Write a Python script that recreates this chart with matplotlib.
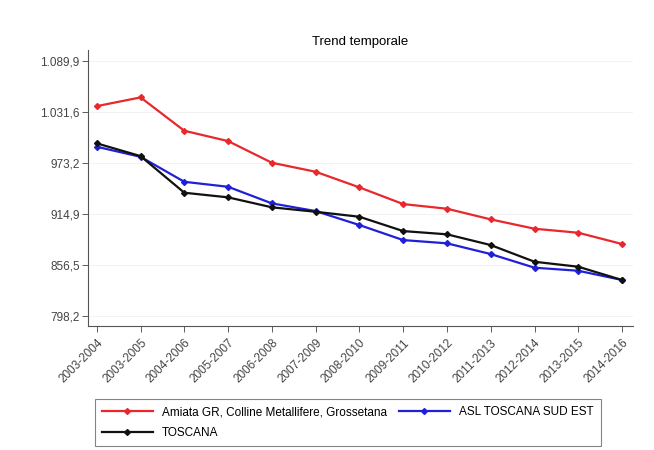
import matplotlib
matplotlib.use("Agg")
import matplotlib.pyplot as plt
from matplotlib.ticker import FuncFormatter

plt.rcParams['font.family'] = ['Liberation Sans', 'DejaVu Sans']

# periods on the x axis
periods = ['2003-2004', '2003-2005', '2004-2006', '2005-2007', '2006-2008',
           '2007-2009', '2008-2010', '2009-2011', '2010-2012', '2011-2013',
           '2012-2014', '2013-2015', '2014-2016']

# values
amiata = [1038.4, 1048.4, 1010.2, 998.4, 973.6, 963.3, 945.4,
          926.3, 921.0, 908.8, 898.1, 893.5, 880.6]
asl_sud_est = [991.9, 980.4, 951.8, 946.1, 927.1, 918.3, 902.3,
               885.1, 881.4, 869.1, 853.5, 850.0, 839.4]
toscana = [995.8, 981.2, 939.3, 934.0, 922.6, 917.5, 911.8,
           895.4, 891.7, 879.4, 860.3, 854.6, 839.4]

y_ticks = [798.2, 856.5, 914.9, 973.2, 1031.6, 1089.9]


def it_fmt(v, pos):
    # italian style: dot for thousands, comma for decimals
    s = f"{v:,.1f}"
    return s.replace(',', 'X').replace('.', ',').replace('X', '.')


fig = plt.figure(figsize=(6.54, 4.5), dpi=100)
ax = fig.add_axes([0.1346, 0.2756, 0.8333, 0.613])

x = list(range(len(periods)))
l1, = ax.plot(x, amiata, color='#e8282c', lw=1.6, marker='D', ms=3,
              label='Amiata GR, Colline Metallifere, Grossetana')
l2, = ax.plot(x, asl_sud_est, color='#2020d8', lw=1.6, marker='D', ms=3,
              label='ASL TOSCANA SUD EST')
l3, = ax.plot(x, toscana, color='#111111', lw=1.6, marker='D', ms=3,
              label='TOSCANA')

ax.set_xlim(-0.2, 12.25)
ax.set_ylim(786.8, 1102.5)
ax.set_yticks(y_ticks)
ax.yaxis.set_major_formatter(FuncFormatter(it_fmt))
ax.set_xticks(x)
ax.set_xticklabels(periods, rotation=45, ha='right', rotation_mode='anchor')
ax.tick_params(axis='both', labelsize=8.5, colors='#444444', length=4,
               width=0.6, pad=2)
ax.tick_params(axis='x', pad=4)
ax.grid(axis='y', color='#f0f0f0', lw=0.6)
ax.set_axisbelow(True)

for side in ['top', 'right']:
    ax.spines[side].set_visible(False)
for side in ['left', 'bottom']:
    ax.spines[side].set_color('#555555')
    ax.spines[side].set_linewidth(0.8)

ax.set_title('Trend temporale', fontsize=9.5, pad=4)

# column-wise fill: amiata + toscana in col 1, asl in col 2
leg = fig.legend(handles=[l1, l3, l2], loc='upper left',
                 bbox_to_anchor=(0.145, 0.113), ncol=2, fontsize=8.5,
                 handlelength=4.3, columnspacing=1.0, handletextpad=0.8,
                 labelspacing=0.75, borderpad=0.6, frameon=True,
                 fancybox=False, edgecolor='#666666', borderaxespad=0)
leg.get_frame().set_linewidth(0.8)

fig.savefig('out.png', dpi=100)
